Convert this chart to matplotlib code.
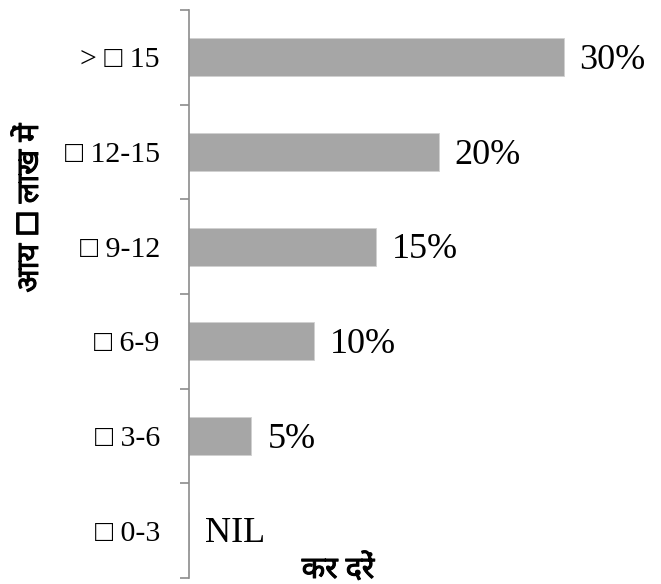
import matplotlib
matplotlib.use("Agg")
import matplotlib.pyplot as plt
import matplotlib.patheffects as pe

categories = ["\u25a1 0-3", "\u25a1 3-6", "\u25a1 6-9", "\u25a1 9-12", "\u25a1 12-15", "> \u25a1 15"]
values = [0, 5, 10, 15, 20, 30]
value_labels = ["NIL", "5%", "10%", "15%", "20%", "30%"]
ylabel_text = "आय \u25a1 लाख में"
xlabel_text = "कर दरें"

serif = ["Liberation Serif", "DejaVu Serif"]
deva = ["Noto Sans Devanagari", "Lohit Devanagari", "FreeSans", "Noto Sans", "DejaVu Sans"]

fig = plt.figure(figsize=(6.61, 5.84), dpi=100)
ax = fig.add_axes([189 / 661, 6 / 584, 1 - 189 / 661, 568 / 584])

y = list(range(len(categories)))
ax.barh(y, values, height=0.4, color="#A6A6A6", edgecolor="#D0D0D0", linewidth=0.6)
ax.set_xlim(0, 37.8)
ax.set_ylim(-0.5, len(categories) - 0.5)

for yi, v, lab in zip(y, values, value_labels):
    ax.annotate(lab, (v, yi), xytext=(16, -3), textcoords="offset pixels",
                va="center", ha="left", fontsize=26, family=serif)

ax.set_yticks([i - 0.5 for i in range(len(categories) + 1)])
ax.set_yticklabels([])
ax.set_yticks(y, minor=True)
ax.set_yticklabels(categories, minor=True, fontsize=21.5, family=serif)
ax.tick_params(axis="y", which="minor", length=0, pad=21)
ax.tick_params(axis="y", which="major", length=9 * 72 / 100, width=1.2, color="#8C8C8C", direction="out")
ax.set_xticks([])

for s in ["top", "right", "bottom"]:
    ax.spines[s].set_visible(False)
ax.spines["left"].set_color("#8C8C8C")
ax.spines["left"].set_linewidth(1.2)

bold = [pe.withStroke(linewidth=0.7, foreground="black")]
fig.text(30 / 661, 1 - 208 / 584, ylabel_text, rotation=90, ha="center", va="center",
         fontsize=22, fontweight="bold", family=deva, path_effects=bold)
fig.text(338 / 661, 1 - 570 / 584, xlabel_text, ha="center", va="center",
         fontsize=22, fontweight="bold", family=deva, path_effects=bold)

fig.savefig("out.png", dpi=100)
